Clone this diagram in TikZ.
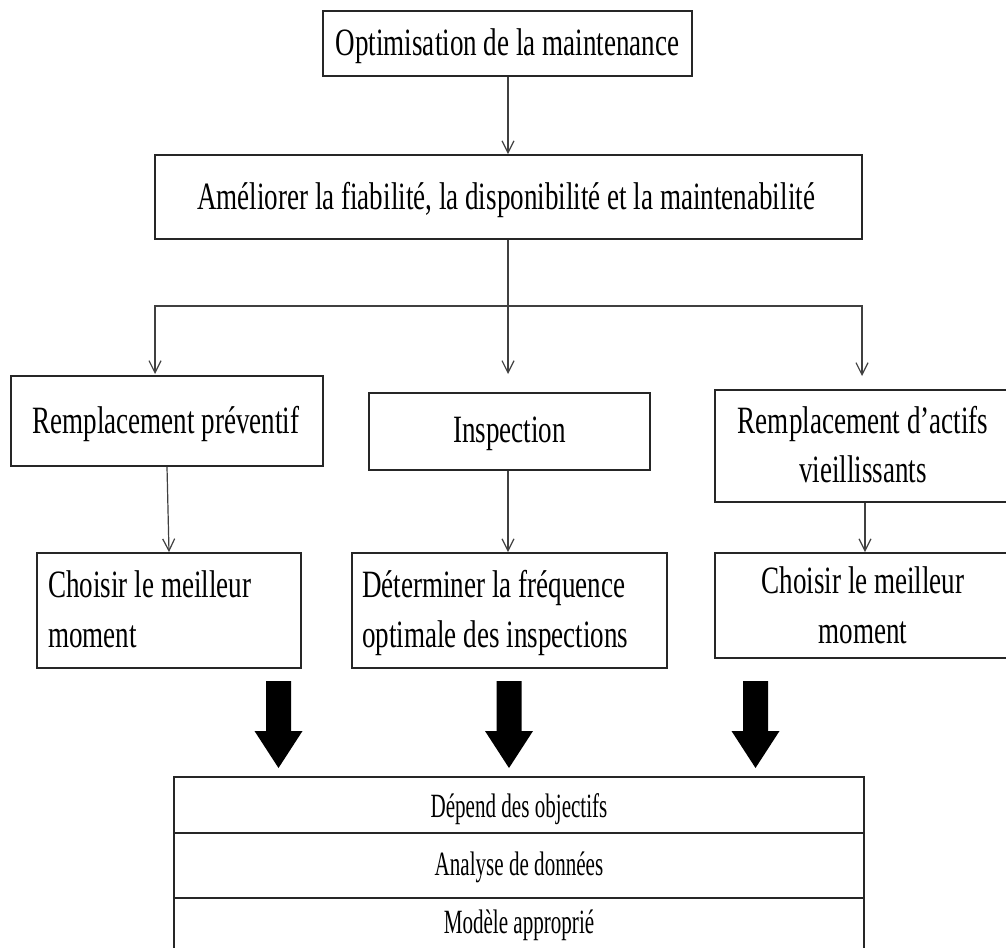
\documentclass[tikz,border=0pt]{standalone}
\usepackage{fontspec}
\setmainfont{Liberation Serif}
\newfontfamily\boxfont[FakeStretch=0.70]{Liberation Serif}
\newfontfamily\rowfont[FakeStretch=0.62]{Liberation Serif}
\usetikzlibrary{arrows.meta,fit}

\tikzset{
  box/.style={draw=black!85, line width=1.3pt, inner sep=0pt, rectangle},
  txt/.style={font=\boxfont\fontsize{29pt}{35pt}\selectfont, inner sep=0pt, text=black},
  rowtxt/.style={font=\rowfont\fontsize{25.5pt}{30pt}\selectfont, inner sep=0pt, text=black},
  conn/.style={draw=black!75, line width=0.9pt},
  arr/.style={conn, -{Straight Barb[length=9pt,width=9pt,line width=0.9pt]}},
  blockarrow/.pic={
    \fill[black] (-12.5,0) -- (12.5,0) -- (12.5,50) -- (24,50) -- (0,87)
      -- (-24,50) -- (-12.5,50) -- cycle;
  }
}

\begin{document}
\begin{tikzpicture}[x=0.75pt,y=-0.75pt]
\useasboundingbox[fill=white] (0,0) rectangle (1006,948);
\clip (0,0) rectangle (1006,948);

% --- boxes ---------------------------------------------------------------
\node[box, fit={(323,11)(692,76)}]    (top)  {};
\node[box, fit={(155,155)(862,239)}]  (imp)  {};
\node[box, fit={(11,376)(323,466)}]   (prev) {};
\node[box, fit={(369,393)(650,470)}]  (insp) {};
\node[box, fit={(715,390)(1030,502)}] (vieil){};
\node[box, fit={(37,553)(301,668)}]   (momA) {};
\node[box, fit={(352,553)(667,668)}]  (freq) {};
\node[box, fit={(715,553)(1030,658)}] (momB) {};

% --- texts ---------------------------------------------------------------
\node[txt, anchor=base] (ttop) at (507.5,56) {Optimisation de la maintenance};
\node[txt, anchor=base] (timp) at (506,210) {Améliorer la fiabilité, la disponibilité et la maintenabilité};
\node[txt, anchor=base] (tprev) at (166,433) {Remplacement préventif};
\node[txt, anchor=base] (tinsp) at (509.5,442) {Inspection};
\node[txt, anchor=base] (tvia) at (863,433) {Remplacement d’actifs};
\node[txt, anchor=base] (tvib) at (863,482) {vieillissants};
\node[txt, anchor=base west] (tmaa) at (48,597) {Choisir le meilleur};
\node[txt, anchor=base west] (tmab) at (48,647) {moment};
\node[txt, anchor=base west] (tfra) at (362,597) {Déterminer la fréquence};
\node[txt, anchor=base west] (tfrb) at (362,647) {optimale des inspections};
\node[txt, anchor=base] (tmba) at (863,593) {Choisir le meilleur};
\node[txt, anchor=base] (tmbb) at (863,643) {moment};

% --- thin connectors -----------------------------------------------------
\coordinate (fork) at (508,306);
\coordinate (tipL) at (155,374);
\coordinate (tipI) at (508,374);
\coordinate (tipR) at (862,376);

\draw[arr] (top.south -| 508,0) -- (imp.north -| 508,0);
\draw[conn] (imp.south -| fork) -- (fork);
\draw[arr] (fork) -- (tipI);
\draw[arr] (fork) -| (tipL);
\draw[arr] (fork) -| (tipR);

\draw[arr] (prev.south -| 167,0) -- (momA.north -| 169,0);
\draw[arr] (insp.south -| 508,0) -- (freq.north -| 508,0);
\draw[arr] (vieil.south -| 865,0) -- (momB.north -| 865,0);

% --- block arrows --------------------------------------------------------
\pic at (278.5,681) {blockarrow};
\pic at (509,681) {blockarrow};
\pic at (755.5,681) {blockarrow};

% --- summary table -------------------------------------------------------
\node[box, fit={(174,777)(864,833)}] (rowA) {};
\node[box, fit={(174,833)(864,898)}] (rowB) {};
\node[box, fit={(174,898)(864,970)}] (rowC) {};
\node[rowtxt, anchor=base] (ta) at (519,817) {Dépend des objectifs};
\node[rowtxt, anchor=base] (tb) at (519,875) {Analyse de données};
\node[rowtxt, anchor=base] (tc) at (519,933) {Modèle approprié};
\end{tikzpicture}
\end{document}
